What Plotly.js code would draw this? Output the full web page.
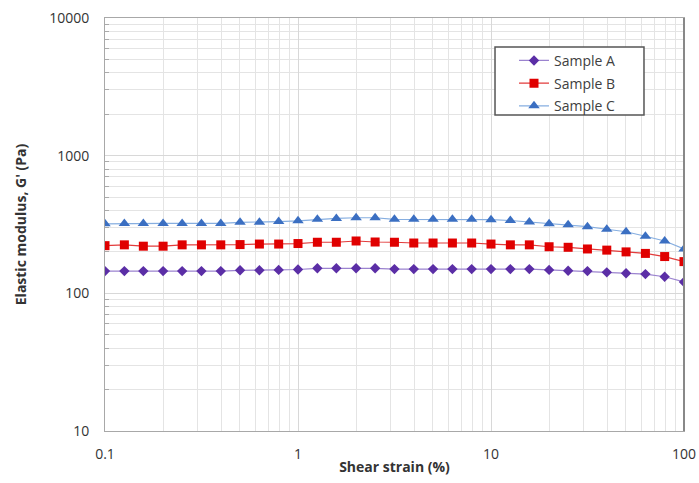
<!DOCTYPE html>
<html>
<head>
<meta charset="utf-8">
<script src="https://cdn.plot.ly/plotly-3.0.1.min.js"></script>
<style>html,body{margin:0;padding:0;background:#fff;}#chart{width:699px;height:483px;}</style>
</head>
<body>
<div id="chart"></div>
<script>
var shearStrain = [0.1, 0.126, 0.158, 0.2, 0.251, 0.316, 0.398, 0.501, 0.631, 0.794,
  1, 1.26, 1.58, 2, 2.51, 3.16, 3.98, 5.01, 6.31, 7.94,
  10, 12.6, 15.8, 20, 25.1, 31.6, 39.8, 50.1, 63.1, 79.4, 100];
var sampleA = [145, 145, 145, 145, 145, 145, 145, 147, 147, 148,
  149, 152, 152, 152, 152, 150, 150, 150, 150, 150,
  150, 150, 150, 148, 146, 145, 142, 140, 138, 132, 121];
var sampleB = [222, 225, 220, 220, 225, 225, 225, 226, 228, 228,
  230, 235, 235, 240, 236, 235, 232, 232, 232, 232,
  228, 225, 225, 218, 216, 210, 206, 200, 195, 185, 170];
var sampleC = [320, 322, 322, 322, 322, 322, 322, 328, 328, 332,
  336, 345, 350, 354, 354, 345, 345, 345, 345, 345,
  343, 338, 330, 320, 315, 305, 292, 280, 260, 240, 210];
var seriesNames = ['Sample A', 'Sample B', 'Sample C'];
var xTickVals = [0.1, 1, 10, 100];
var xTickText = ['0.1', '1', '10', '100'];
var yTickVals = [10, 100, 1000, 10000];
var yTickText = ['10', '100', '1000', '10000'];

var traces = [
  {x: shearStrain, y: sampleA, name: seriesNames[0], legendgroup: 'a', type: 'scatter', mode: 'lines+markers',
   line: {color: '#9b83cf', width: 1.2},
   marker: {symbol: 'diamond', size: 8, color: '#5b2ea6'}},
  {x: shearStrain, y: sampleB, name: seriesNames[1], legendgroup: 'b', type: 'scatter', mode: 'lines+markers',
   line: {color: '#e23b3b', width: 1.2},
   marker: {symbol: 'square', size: 9, color: '#e00000'}},
  {x: shearStrain, y: sampleC, name: seriesNames[2], legendgroup: 'c', type: 'scatter', mode: 'lines+markers',
   line: {color: '#86aee0', width: 1.2},
   marker: {symbol: 'triangle-up', size: 10, color: '#3b6fc2'}}
];

var font = "'Open Sans', 'Liberation Sans', sans-serif";
var layout = {
  width: 699, height: 483,
  margin: {l: 105, r: 15, t: 18, b: 52},
  paper_bgcolor: '#fff', plot_bgcolor: '#fff',
  font: {family: font, color: '#333', size: 13},
  showlegend: true,
  legend: {x: 0.7064, y: 0.935, xanchor: 'left', yanchor: 'top',
    bgcolor: 'rgba(255,255,255,0)', borderwidth: 0,
    font: {family: font, size: 14, color: '#404040'}, tracegroupgap: 1.5, itemwidth: 30},
  shapes: [
    {type: 'rect', xref: 'paper', yref: 'paper', x0: 0.6736, x1: 0.9309, y0: 0.7651, y1: 0.9298,
     fillcolor: '#fff', line: {color: '#555', width: 1.5}, layer: 'above'},
    {type: 'line', xref: 'paper', yref: 'paper', x0: 1, x1: 1, y0: 0, y1: 1,
     line: {color: '#888', width: 2}}
  ],
  xaxis: {
    type: 'log', range: [-1, 2],
    tickvals: xTickVals, ticktext: xTickText,
    showgrid: true, gridcolor: '#d8d8d8', gridwidth: 1,
    minor: {showgrid: true, gridcolor: '#e4e4e4', tickvals: [0.2,0.3,0.4,0.5,0.6,0.7,0.8,0.9,2,3,4,5,6,7,8,9,20,30,40,50,60,70,80,90]},
    showline: true, linecolor: '#a8a8a8', linewidth: 1, mirror: true,
    ticks: '', zeroline: false, ticklabelstandoff: 10,
    tickfont: {family: font, size: 14, color: '#333'},
    title: {text: '<b>Shear strain (%)</b>', font: {family: font, size: 14, color: '#333'}, standoff: 0}
  },
  yaxis: {
    type: 'log', range: [1, 4],
    tickvals: yTickVals, ticktext: yTickText,
    showgrid: true, gridcolor: '#d8d8d8', gridwidth: 1,
    minor: {showgrid: true, gridcolor: '#e4e4e4', ticks: 'inside', ticklen: 4, tickcolor: '#aaa',
      tickvals: [20,30,40,50,60,70,80,90,200,300,400,500,600,700,800,900,2000,3000,4000,5000,6000,7000,8000,9000]},
    showline: true, linecolor: '#a8a8a8', linewidth: 1, mirror: true,
    ticks: '', zeroline: false, ticklabelstandoff: 12,
    tickfont: {family: font, size: 14, color: '#333'},
    title: {text: "<b>Elastic modulus, G' (Pa)</b>", font: {family: font, size: 14, color: '#333'}, standoff: 19}
  }
};

Plotly.newPlot('chart', traces, layout, {displayModeBar: false, staticPlot: true});
</script>
</body>
</html>
